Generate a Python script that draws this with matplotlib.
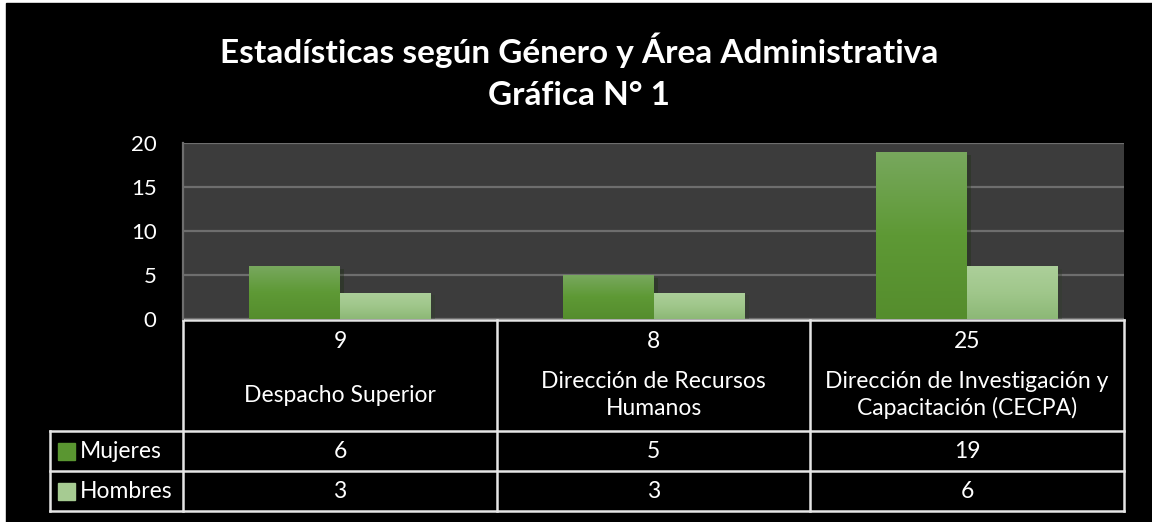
import matplotlib
matplotlib.use('Agg')
import matplotlib.pyplot as plt
import matplotlib.patheffects as pe
from matplotlib.colors import LinearSegmentedColormap
from matplotlib.patches import Rectangle
import numpy as np

# data
areas = ['Despacho Superior', 'Dirección de Recursos\nHumanos',
         'Dirección de Investigación y\nCapacitación (CECPA)']
totales = [9, 8, 25]
mujeres = [6, 5, 19]
hombres = [3, 3, 6]
series = ['Mujeres', 'Hombres']
titulo = 'Estadísticas según Género y Área Administrativa\nGráfica N° 1'

plt.rcParams['font.family'] = ['Lato', 'DejaVu Sans']

W, H = 1152, 522
fig = plt.figure(figsize=(W / 100, H / 100), dpi=100, facecolor='white')

# overlay in pixel coords for background, title and data table
ov = fig.add_axes([0, 0, 1, 1], zorder=0)
ov.set_xlim(0, W)
ov.set_ylim(H, 0)
ov.axis('off')
ov.add_patch(Rectangle((6, 3), W - 6, H - 3, color='black'))

ov.text(579, 71, titulo, color='white', fontsize=24, fontweight='bold',
        ha='center', va='center', linespacing=1.55)

# bar area
x0, x1, ytop, ybot = 183, 1124, 143, 319
ax = fig.add_axes([x0 / W, 1 - ybot / H, (x1 - x0) / W, (ybot - ytop) / H], zorder=1)
ax.set_facecolor('#3c3c3c')
ax.set_xlim(-0.5, len(areas) - 0.5)
ax.set_ylim(0, 20)
ax.set_yticks([0, 5, 10, 15, 20])
ax.set_xticks([])
ax.grid(axis='y', color='#6e6e6e', linewidth=1.6)
ax.set_axisbelow(True)
for s in ['top', 'right', 'bottom']:
    ax.spines[s].set_visible(False)
ax.spines['left'].set_color('#6e6e6e')
ax.spines['left'].set_linewidth(1.6)
ax.tick_params(axis='y', colors='white', labelsize=16, length=0, pad=19)

cm_m = LinearSegmentedColormap.from_list('m', ['#558d2d', '#5e9935', '#78a85e'])
cm_h = LinearSegmentedColormap.from_list('h', ['#8cb876', '#a0c78b', '#accf9a'])

bw = 0.29
xs = np.arange(len(areas))
grad = np.linspace(0, 1, 256).reshape(-1, 1)
for vals, off, cm in [(mujeres, -bw / 2, cm_m), (hombres, bw / 2, cm_h)]:
    bars = ax.bar(xs + off, vals, bw, color=cm(0.5), zorder=2,
                  path_effects=[pe.SimplePatchShadow(offset=(3, -2), alpha=0.35), pe.Normal()])
    for b in bars:
        im = ax.imshow(grad, extent=[b.get_x(), b.get_x() + b.get_width(), 0, b.get_height()],
                       origin='lower', aspect='auto', cmap=cm, zorder=3)
        im.set_clip_path(b)
ax.set_xlim(-0.5, len(areas) - 0.5)
ax.set_ylim(0, 20)

# data table
lc = '#e6e6e6'
lw = 1.8
cols = [183, 497, 810, 1124]
ov.plot([183, 1124], [320, 320], color=lc, lw=lw)
for yy in [431, 471, 511]:
    ov.plot([50, 1124], [yy, yy], color=lc, lw=lw)
ov.plot([50, 50], [431, 511], color=lc, lw=lw)
for cx in cols:
    ov.plot([cx, cx], [320, 511], color=lc, lw=lw)

fs = 16.5
for i in range(len(areas)):
    cx = (cols[i] + cols[i + 1]) / 2
    ov.text(cx, 341, str(totales[i]), color='white', fontsize=fs, ha='center', va='center')
    ov.text(cx, 395, areas[i], color='white', fontsize=fs, ha='center', va='center',
            linespacing=1.3)
    ov.text(cx, 451, str(mujeres[i]), color='white', fontsize=fs, ha='center', va='center')
    ov.text(cx, 491, str(hombres[i]), color='white', fontsize=fs, ha='center', va='center')

for name, yy, c in [(series[0], 451, '#5a9631'), (series[1], 491, '#a6cb92')]:
    ov.add_patch(Rectangle((58, yy - 8), 17, 17, color=c))
    ov.text(80, yy, name, color='white', fontsize=fs, ha='left', va='center')

fig.savefig('out.png', dpi=100, facecolor=fig.get_facecolor())
